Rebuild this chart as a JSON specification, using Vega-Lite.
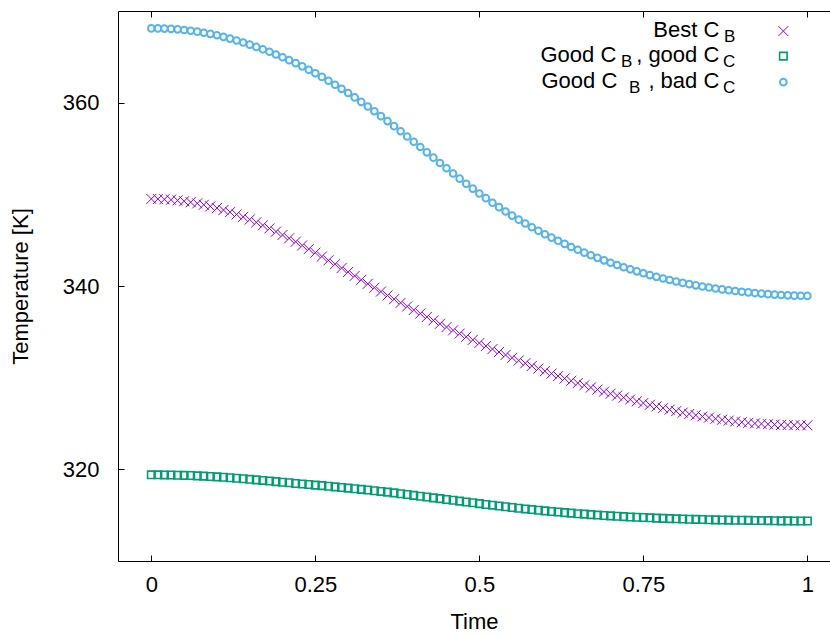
{
  "$schema": "https://vega.github.io/schema/vega-lite/v6.json",
  "width": 712,
  "height": 550,
  "autosize": {"type": "none"},
  "padding": {"left": 118, "top": 11, "right": 0, "bottom": 74},
  "background": "#ffffff",
  "config": {
    "view": {"stroke": null},
    "font": "Liberation Sans",
    "axis": {
      "domainColor": "#000000", "tickColor": "#000000", "labelColor": "#000000", "titleColor": "#000000",
      "labelFont": "Liberation Sans", "titleFont": "Liberation Sans",
      "labelFontSize": 22, "titleFontSize": 22, "titleFontWeight": "normal",
      "tickSize": -6, "grid": false, "domainWidth": 1, "tickWidth": 1, "labelFlush": false
    }
  },
  "data": {"values": [{}]},
  "datasets": {
    "temps": [
{"series":"best","time":0.00,"temp":349.50},{"series":"best","time":0.01,"temp":349.49},{"series":"best","time":0.02,"temp":349.46},{"series":"best","time":0.03,"temp":349.41},{"series":"best","time":0.04,"temp":349.34},{"series":"best","time":0.05,"temp":349.25},{"series":"best","time":0.06,"temp":349.14},{"series":"best","time":0.07,"temp":349.01},{"series":"best","time":0.08,"temp":348.86},{"series":"best","time":0.09,"temp":348.69},
{"series":"best","time":0.10,"temp":348.50},{"series":"best","time":0.11,"temp":348.29},{"series":"best","time":0.12,"temp":348.06},{"series":"best","time":0.13,"temp":347.81},{"series":"best","time":0.14,"temp":347.54},{"series":"best","time":0.15,"temp":347.25},{"series":"best","time":0.16,"temp":346.94},{"series":"best","time":0.17,"temp":346.62},{"series":"best","time":0.18,"temp":346.28},{"series":"best","time":0.19,"temp":345.93},
{"series":"best","time":0.20,"temp":345.57},{"series":"best","time":0.21,"temp":345.20},{"series":"best","time":0.22,"temp":344.82},{"series":"best","time":0.23,"temp":344.43},{"series":"best","time":0.24,"temp":344.03},{"series":"best","time":0.25,"temp":343.63},{"series":"best","time":0.26,"temp":343.22},{"series":"best","time":0.27,"temp":342.80},{"series":"best","time":0.28,"temp":342.38},{"series":"best","time":0.29,"temp":341.96},
{"series":"best","time":0.30,"temp":341.53},{"series":"best","time":0.31,"temp":341.10},{"series":"best","time":0.32,"temp":340.67},{"series":"best","time":0.33,"temp":340.24},{"series":"best","time":0.34,"temp":339.81},{"series":"best","time":0.35,"temp":339.39},{"series":"best","time":0.36,"temp":338.97},{"series":"best","time":0.37,"temp":338.56},{"series":"best","time":0.38,"temp":338.16},{"series":"best","time":0.39,"temp":337.77},
{"series":"best","time":0.40,"temp":337.38},{"series":"best","time":0.41,"temp":337.00},{"series":"best","time":0.42,"temp":336.62},{"series":"best","time":0.43,"temp":336.25},{"series":"best","time":0.44,"temp":335.88},{"series":"best","time":0.45,"temp":335.52},{"series":"best","time":0.46,"temp":335.16},{"series":"best","time":0.47,"temp":334.81},{"series":"best","time":0.48,"temp":334.46},{"series":"best","time":0.49,"temp":334.12},
{"series":"best","time":0.50,"temp":333.78},{"series":"best","time":0.51,"temp":333.45},{"series":"best","time":0.52,"temp":333.12},{"series":"best","time":0.53,"temp":332.80},{"series":"best","time":0.54,"temp":332.48},{"series":"best","time":0.55,"temp":332.17},{"series":"best","time":0.56,"temp":331.87},{"series":"best","time":0.57,"temp":331.57},{"series":"best","time":0.58,"temp":331.28},{"series":"best","time":0.59,"temp":330.99},
{"series":"best","time":0.60,"temp":330.71},{"series":"best","time":0.61,"temp":330.44},{"series":"best","time":0.62,"temp":330.17},{"series":"best","time":0.63,"temp":329.91},{"series":"best","time":0.64,"temp":329.66},{"series":"best","time":0.65,"temp":329.41},{"series":"best","time":0.66,"temp":329.17},{"series":"best","time":0.67,"temp":328.93},{"series":"best","time":0.68,"temp":328.70},{"series":"best","time":0.69,"temp":328.47},
{"series":"best","time":0.70,"temp":328.25},{"series":"best","time":0.71,"temp":328.04},{"series":"best","time":0.72,"temp":327.83},{"series":"best","time":0.73,"temp":327.62},{"series":"best","time":0.74,"temp":327.42},{"series":"best","time":0.75,"temp":327.23},{"series":"best","time":0.76,"temp":327.04},{"series":"best","time":0.77,"temp":326.86},{"series":"best","time":0.78,"temp":326.68},{"series":"best","time":0.79,"temp":326.51},
{"series":"best","time":0.80,"temp":326.35},{"series":"best","time":0.81,"temp":326.19},{"series":"best","time":0.82,"temp":326.04},{"series":"best","time":0.83,"temp":325.90},{"series":"best","time":0.84,"temp":325.77},{"series":"best","time":0.85,"temp":325.64},{"series":"best","time":0.86,"temp":325.52},{"series":"best","time":0.87,"temp":325.41},{"series":"best","time":0.88,"temp":325.31},{"series":"best","time":0.89,"temp":325.22},
{"series":"best","time":0.90,"temp":325.14},{"series":"best","time":0.91,"temp":325.07},{"series":"best","time":0.92,"temp":325.01},{"series":"best","time":0.93,"temp":324.96},{"series":"best","time":0.94,"temp":324.92},{"series":"best","time":0.95,"temp":324.88},{"series":"best","time":0.96,"temp":324.85},{"series":"best","time":0.97,"temp":324.83},{"series":"best","time":0.98,"temp":324.81},{"series":"best","time":0.99,"temp":324.80},
{"series":"best","time":1.00,"temp":324.80},
{"series":"goodgood","time":0.00,"temp":319.40},{"series":"goodgood","time":0.01,"temp":319.40},{"series":"goodgood","time":0.02,"temp":319.39},{"series":"goodgood","time":0.03,"temp":319.38},{"series":"goodgood","time":0.04,"temp":319.36},{"series":"goodgood","time":0.05,"temp":319.34},{"series":"goodgood","time":0.06,"temp":319.32},{"series":"goodgood","time":0.07,"temp":319.29},{"series":"goodgood","time":0.08,"temp":319.26},{"series":"goodgood","time":0.09,"temp":319.22},
{"series":"goodgood","time":0.10,"temp":319.18},{"series":"goodgood","time":0.11,"temp":319.13},{"series":"goodgood","time":0.12,"temp":319.08},{"series":"goodgood","time":0.13,"temp":319.03},{"series":"goodgood","time":0.14,"temp":318.97},{"series":"goodgood","time":0.15,"temp":318.91},{"series":"goodgood","time":0.16,"temp":318.85},{"series":"goodgood","time":0.17,"temp":318.79},{"series":"goodgood","time":0.18,"temp":318.72},{"series":"goodgood","time":0.19,"temp":318.66},
{"series":"goodgood","time":0.20,"temp":318.59},{"series":"goodgood","time":0.21,"temp":318.53},{"series":"goodgood","time":0.22,"temp":318.46},{"series":"goodgood","time":0.23,"temp":318.40},{"series":"goodgood","time":0.24,"temp":318.34},{"series":"goodgood","time":0.25,"temp":318.28},{"series":"goodgood","time":0.26,"temp":318.22},{"series":"goodgood","time":0.27,"temp":318.16},{"series":"goodgood","time":0.28,"temp":318.09},{"series":"goodgood","time":0.29,"temp":318.02},
{"series":"goodgood","time":0.30,"temp":317.95},{"series":"goodgood","time":0.31,"temp":317.88},{"series":"goodgood","time":0.32,"temp":317.81},{"series":"goodgood","time":0.33,"temp":317.74},{"series":"goodgood","time":0.34,"temp":317.66},{"series":"goodgood","time":0.35,"temp":317.59},{"series":"goodgood","time":0.36,"temp":317.51},{"series":"goodgood","time":0.37,"temp":317.43},{"series":"goodgood","time":0.38,"temp":317.34},{"series":"goodgood","time":0.39,"temp":317.25},
{"series":"goodgood","time":0.40,"temp":317.16},{"series":"goodgood","time":0.41,"temp":317.07},{"series":"goodgood","time":0.42,"temp":316.98},{"series":"goodgood","time":0.43,"temp":316.89},{"series":"goodgood","time":0.44,"temp":316.80},{"series":"goodgood","time":0.45,"temp":316.71},{"series":"goodgood","time":0.46,"temp":316.62},{"series":"goodgood","time":0.47,"temp":316.53},{"series":"goodgood","time":0.48,"temp":316.44},{"series":"goodgood","time":0.49,"temp":316.35},
{"series":"goodgood","time":0.50,"temp":316.26},{"series":"goodgood","time":0.51,"temp":316.17},{"series":"goodgood","time":0.52,"temp":316.09},{"series":"goodgood","time":0.53,"temp":316.00},{"series":"goodgood","time":0.54,"temp":315.92},{"series":"goodgood","time":0.55,"temp":315.84},{"series":"goodgood","time":0.56,"temp":315.76},{"series":"goodgood","time":0.57,"temp":315.68},{"series":"goodgood","time":0.58,"temp":315.61},{"series":"goodgood","time":0.59,"temp":315.54},
{"series":"goodgood","time":0.60,"temp":315.47},{"series":"goodgood","time":0.61,"temp":315.40},{"series":"goodgood","time":0.62,"temp":315.34},{"series":"goodgood","time":0.63,"temp":315.28},{"series":"goodgood","time":0.64,"temp":315.22},{"series":"goodgood","time":0.65,"temp":315.16},{"series":"goodgood","time":0.66,"temp":315.11},{"series":"goodgood","time":0.67,"temp":315.06},{"series":"goodgood","time":0.68,"temp":315.01},{"series":"goodgood","time":0.69,"temp":314.96},
{"series":"goodgood","time":0.70,"temp":314.92},{"series":"goodgood","time":0.71,"temp":314.88},{"series":"goodgood","time":0.72,"temp":314.84},{"series":"goodgood","time":0.73,"temp":314.80},{"series":"goodgood","time":0.74,"temp":314.77},{"series":"goodgood","time":0.75,"temp":314.74},{"series":"goodgood","time":0.76,"temp":314.71},{"series":"goodgood","time":0.77,"temp":314.68},{"series":"goodgood","time":0.78,"temp":314.65},{"series":"goodgood","time":0.79,"temp":314.62},
{"series":"goodgood","time":0.80,"temp":314.60},{"series":"goodgood","time":0.81,"temp":314.58},{"series":"goodgood","time":0.82,"temp":314.56},{"series":"goodgood","time":0.83,"temp":314.54},{"series":"goodgood","time":0.84,"temp":314.52},{"series":"goodgood","time":0.85,"temp":314.50},{"series":"goodgood","time":0.86,"temp":314.49},{"series":"goodgood","time":0.87,"temp":314.47},{"series":"goodgood","time":0.88,"temp":314.46},{"series":"goodgood","time":0.89,"temp":314.45},
{"series":"goodgood","time":0.90,"temp":314.44},{"series":"goodgood","time":0.91,"temp":314.43},{"series":"goodgood","time":0.92,"temp":314.42},{"series":"goodgood","time":0.93,"temp":314.41},{"series":"goodgood","time":0.94,"temp":314.40},{"series":"goodgood","time":0.95,"temp":314.39},{"series":"goodgood","time":0.96,"temp":314.38},{"series":"goodgood","time":0.97,"temp":314.38},{"series":"goodgood","time":0.98,"temp":314.37},{"series":"goodgood","time":0.99,"temp":314.37},
{"series":"goodgood","time":1.00,"temp":314.37},
{"series":"goodbad","time":0.00,"temp":368.10},{"series":"goodbad","time":0.01,"temp":368.10},{"series":"goodbad","time":0.02,"temp":368.08},{"series":"goodbad","time":0.03,"temp":368.05},{"series":"goodbad","time":0.04,"temp":368.00},{"series":"goodbad","time":0.05,"temp":367.93},{"series":"goodbad","time":0.06,"temp":367.85},{"series":"goodbad","time":0.07,"temp":367.75},{"series":"goodbad","time":0.08,"temp":367.63},{"series":"goodbad","time":0.09,"temp":367.50},
{"series":"goodbad","time":0.10,"temp":367.35},{"series":"goodbad","time":0.11,"temp":367.18},{"series":"goodbad","time":0.12,"temp":366.99},{"series":"goodbad","time":0.13,"temp":366.78},{"series":"goodbad","time":0.14,"temp":366.56},{"series":"goodbad","time":0.15,"temp":366.33},{"series":"goodbad","time":0.16,"temp":366.08},{"series":"goodbad","time":0.17,"temp":365.82},{"series":"goodbad","time":0.18,"temp":365.55},{"series":"goodbad","time":0.19,"temp":365.26},
{"series":"goodbad","time":0.20,"temp":364.96},{"series":"goodbad","time":0.21,"temp":364.64},{"series":"goodbad","time":0.22,"temp":364.31},{"series":"goodbad","time":0.23,"temp":363.96},{"series":"goodbad","time":0.24,"temp":363.59},{"series":"goodbad","time":0.25,"temp":363.21},{"series":"goodbad","time":0.26,"temp":362.81},{"series":"goodbad","time":0.27,"temp":362.39},{"series":"goodbad","time":0.28,"temp":361.96},{"series":"goodbad","time":0.29,"temp":361.51},
{"series":"goodbad","time":0.30,"temp":361.05},{"series":"goodbad","time":0.31,"temp":360.57},{"series":"goodbad","time":0.32,"temp":360.08},{"series":"goodbad","time":0.33,"temp":359.58},{"series":"goodbad","time":0.34,"temp":359.06},{"series":"goodbad","time":0.35,"temp":358.53},{"series":"goodbad","time":0.36,"temp":357.99},{"series":"goodbad","time":0.37,"temp":357.44},{"series":"goodbad","time":0.38,"temp":356.88},{"series":"goodbad","time":0.39,"temp":356.31},
{"series":"goodbad","time":0.40,"temp":355.74},{"series":"goodbad","time":0.41,"temp":355.16},{"series":"goodbad","time":0.42,"temp":354.58},{"series":"goodbad","time":0.43,"temp":354.00},{"series":"goodbad","time":0.44,"temp":353.42},{"series":"goodbad","time":0.45,"temp":352.84},{"series":"goodbad","time":0.46,"temp":352.27},{"series":"goodbad","time":0.47,"temp":351.71},{"series":"goodbad","time":0.48,"temp":351.16},{"series":"goodbad","time":0.49,"temp":350.62},
{"series":"goodbad","time":0.50,"temp":350.09},{"series":"goodbad","time":0.51,"temp":349.58},{"series":"goodbad","time":0.52,"temp":349.08},{"series":"goodbad","time":0.53,"temp":348.60},{"series":"goodbad","time":0.54,"temp":348.13},{"series":"goodbad","time":0.55,"temp":347.68},{"series":"goodbad","time":0.56,"temp":347.24},{"series":"goodbad","time":0.57,"temp":346.82},{"series":"goodbad","time":0.58,"temp":346.41},{"series":"goodbad","time":0.59,"temp":346.02},
{"series":"goodbad","time":0.60,"temp":345.64},{"series":"goodbad","time":0.61,"temp":345.28},{"series":"goodbad","time":0.62,"temp":344.93},{"series":"goodbad","time":0.63,"temp":344.59},{"series":"goodbad","time":0.64,"temp":344.26},{"series":"goodbad","time":0.65,"temp":343.95},{"series":"goodbad","time":0.66,"temp":343.64},{"series":"goodbad","time":0.67,"temp":343.35},{"series":"goodbad","time":0.68,"temp":343.07},{"series":"goodbad","time":0.69,"temp":342.80},
{"series":"goodbad","time":0.70,"temp":342.54},{"series":"goodbad","time":0.71,"temp":342.29},{"series":"goodbad","time":0.72,"temp":342.05},{"series":"goodbad","time":0.73,"temp":341.82},{"series":"goodbad","time":0.74,"temp":341.60},{"series":"goodbad","time":0.75,"temp":341.39},{"series":"goodbad","time":0.76,"temp":341.19},{"series":"goodbad","time":0.77,"temp":341.00},{"series":"goodbad","time":0.78,"temp":340.82},{"series":"goodbad","time":0.79,"temp":340.65},
{"series":"goodbad","time":0.80,"temp":340.49},{"series":"goodbad","time":0.81,"temp":340.34},{"series":"goodbad","time":0.82,"temp":340.20},{"series":"goodbad","time":0.83,"temp":340.07},{"series":"goodbad","time":0.84,"temp":339.95},{"series":"goodbad","time":0.85,"temp":339.84},{"series":"goodbad","time":0.86,"temp":339.73},{"series":"goodbad","time":0.87,"temp":339.63},{"series":"goodbad","time":0.88,"temp":339.54},{"series":"goodbad","time":0.89,"temp":339.45},
{"series":"goodbad","time":0.90,"temp":339.37},{"series":"goodbad","time":0.91,"temp":339.30},{"series":"goodbad","time":0.92,"temp":339.23},{"series":"goodbad","time":0.93,"temp":339.17},{"series":"goodbad","time":0.94,"temp":339.11},{"series":"goodbad","time":0.95,"temp":339.06},{"series":"goodbad","time":0.96,"temp":339.02},{"series":"goodbad","time":0.97,"temp":338.98},{"series":"goodbad","time":0.98,"temp":338.95},{"series":"goodbad","time":0.99,"temp":338.93},
{"series":"goodbad","time":1.00,"temp":338.92}
    ]
  },
  "resolve": {"axis": {"x": "independent", "y": "independent"}},
  "layer": [
    {
      "data": {"name": "temps"},
      "transform": [{"filter": "datum.series === 'best'"}],
      "mark": {"type": "point", "shape": "M-1,-1L1,1M-1,1L1,-1", "filled": false, "size": 100, "strokeWidth": 1, "color": "#9400d3", "opacity": 1},
      "encoding": {
        "x": {"field": "time", "type": "quantitative", "scale": {"domain": [-0.0508, 1.0345], "nice": false, "zero": false},
              "axis": {"orient": "bottom", "values": [0, 0.25, 0.5, 0.75, 1], "labelExpr": "'' + datum.value", "title": "Time", "labelPadding": 19, "titlePadding": 16}},
        "y": {"field": "temp", "type": "quantitative", "scale": {"domain": [310, 370], "nice": false, "zero": false},
              "axis": {"orient": "left", "values": [320, 340, 360], "title": "Temperature [K]", "labelPadding": 25, "titlePadding": 30}}
      }
    },
    {
      "data": {"name": "temps"},
      "transform": [{"filter": "datum.series === 'goodgood'"}],
      "mark": {"type": "point", "shape": "square", "filled": false, "size": 56, "strokeWidth": 1.6, "color": "#009e73", "opacity": 1},
      "encoding": {
        "x": {"field": "time", "type": "quantitative", "scale": {"domain": [-0.0508, 1.0345], "nice": false, "zero": false}, "axis": null},
        "y": {"field": "temp", "type": "quantitative", "scale": {"domain": [310, 370], "nice": false, "zero": false}, "axis": null}
      }
    },
    {
      "data": {"name": "temps"},
      "transform": [{"filter": "datum.series === 'goodbad'"}],
      "mark": {"type": "point", "shape": "circle", "filled": false, "size": 44, "strokeWidth": 2, "color": "#56b4e9", "opacity": 1},
      "encoding": {
        "x": {"field": "time", "type": "quantitative", "scale": {"domain": [-0.0508, 1.0345], "nice": false, "zero": false}, "axis": null},
        "y": {"field": "temp", "type": "quantitative", "scale": {"domain": [310, 370], "nice": false, "zero": false}, "axis": null}
      }
    },
    {
      "mark": {"type": "point", "opacity": 0},
      "encoding": {
        "x": {"datum": 0, "type": "quantitative", "scale": {"domain": [-0.0508, 1.0345], "nice": false, "zero": false},
              "axis": {"orient": "top", "values": [0, 0.25, 0.5, 0.75, 1], "labels": false, "title": null}},
        "y": {"datum": 340, "type": "quantitative", "scale": {"domain": [310, 370], "nice": false, "zero": false}, "axis": null}
      }
    },
    {
      "mark": {"type": "point", "shape": "M-1,-1L1,1M-1,1L1,-1", "filled": false, "size": 100, "strokeWidth": 1, "color": "#9400d3", "opacity": 1},
      "encoding": {
        "x": {"datum": 0.9634, "type": "quantitative", "scale": {"domain": [-0.0508, 1.0345], "nice": false, "zero": false}, "axis": null},
        "y": {"datum": 367.81, "type": "quantitative", "scale": {"domain": [310, 370], "nice": false, "zero": false}, "axis": null}
      }
    },
    {
      "mark": {"type": "point", "shape": "square", "filled": false, "size": 56, "strokeWidth": 1.6, "color": "#009e73", "opacity": 1},
      "encoding": {
        "x": {"datum": 0.9634, "type": "quantitative", "scale": {"domain": [-0.0508, 1.0345], "nice": false, "zero": false}, "axis": null},
        "y": {"datum": 365.08, "type": "quantitative", "scale": {"domain": [310, 370], "nice": false, "zero": false}, "axis": null}
      }
    },
    {
      "mark": {"type": "point", "shape": "circle", "filled": false, "size": 44, "strokeWidth": 2, "color": "#56b4e9", "opacity": 1},
      "encoding": {
        "x": {"datum": 0.9634, "type": "quantitative", "scale": {"domain": [-0.0508, 1.0345], "nice": false, "zero": false}, "axis": null},
        "y": {"datum": 362.24, "type": "quantitative", "scale": {"domain": [310, 370], "nice": false, "zero": false}, "axis": null}
      }
    },
    {
      "mark": {"type": "text", "text": "Best C", "align": "right", "baseline": "alphabetic", "dx": -16, "dy": 6, "fontSize": 22, "font": "Liberation Sans", "color": "#000000"},
      "encoding": {
        "x": {"datum": 0.8902, "type": "quantitative", "scale": {"domain": [-0.0508, 1.0345], "nice": false, "zero": false}, "axis": null},
        "y": {"datum": 367.81, "type": "quantitative", "scale": {"domain": [310, 370], "nice": false, "zero": false}, "axis": null}
      }
    },
    {
      "mark": {"type": "text", "text": "B", "align": "right", "baseline": "alphabetic", "dx": 0, "dy": 11, "fontSize": 17, "font": "Liberation Sans", "color": "#000000"},
      "encoding": {
        "x": {"datum": 0.8902, "type": "quantitative", "scale": {"domain": [-0.0508, 1.0345], "nice": false, "zero": false}, "axis": null},
        "y": {"datum": 367.81, "type": "quantitative", "scale": {"domain": [310, 370], "nice": false, "zero": false}, "axis": null}
      }
    },
    {
      "mark": {"type": "text", "text": "Good C", "align": "right", "baseline": "alphabetic", "dx": -119, "dy": 6, "fontSize": 22, "font": "Liberation Sans", "color": "#000000"},
      "encoding": {
        "x": {"datum": 0.8902, "type": "quantitative", "scale": {"domain": [-0.0508, 1.0345], "nice": false, "zero": false}, "axis": null},
        "y": {"datum": 365.08, "type": "quantitative", "scale": {"domain": [310, 370], "nice": false, "zero": false}, "axis": null}
      }
    },
    {
      "mark": {"type": "text", "text": "B", "align": "right", "baseline": "alphabetic", "dx": -103, "dy": 11, "fontSize": 17, "font": "Liberation Sans", "color": "#000000"},
      "encoding": {
        "x": {"datum": 0.8902, "type": "quantitative", "scale": {"domain": [-0.0508, 1.0345], "nice": false, "zero": false}, "axis": null},
        "y": {"datum": 365.08, "type": "quantitative", "scale": {"domain": [310, 370], "nice": false, "zero": false}, "axis": null}
      }
    },
    {
      "mark": {"type": "text", "text": ", good C", "align": "right", "baseline": "alphabetic", "dx": -16, "dy": 6, "fontSize": 22, "font": "Liberation Sans", "color": "#000000"},
      "encoding": {
        "x": {"datum": 0.8902, "type": "quantitative", "scale": {"domain": [-0.0508, 1.0345], "nice": false, "zero": false}, "axis": null},
        "y": {"datum": 365.08, "type": "quantitative", "scale": {"domain": [310, 370], "nice": false, "zero": false}, "axis": null}
      }
    },
    {
      "mark": {"type": "text", "text": "C", "align": "right", "baseline": "alphabetic", "dx": 0, "dy": 11, "fontSize": 17, "font": "Liberation Sans", "color": "#000000"},
      "encoding": {
        "x": {"datum": 0.8902, "type": "quantitative", "scale": {"domain": [-0.0508, 1.0345], "nice": false, "zero": false}, "axis": null},
        "y": {"datum": 365.08, "type": "quantitative", "scale": {"domain": [310, 370], "nice": false, "zero": false}, "axis": null}
      }
    },
    {
      "mark": {"type": "text", "text": "Good C", "align": "right", "baseline": "alphabetic", "dx": -118, "dy": 6, "fontSize": 22, "font": "Liberation Sans", "color": "#000000"},
      "encoding": {
        "x": {"datum": 0.8902, "type": "quantitative", "scale": {"domain": [-0.0508, 1.0345], "nice": false, "zero": false}, "axis": null},
        "y": {"datum": 362.24, "type": "quantitative", "scale": {"domain": [310, 370], "nice": false, "zero": false}, "axis": null}
      }
    },
    {
      "mark": {"type": "text", "text": "B", "align": "right", "baseline": "alphabetic", "dx": -95, "dy": 11, "fontSize": 17, "font": "Liberation Sans", "color": "#000000"},
      "encoding": {
        "x": {"datum": 0.8902, "type": "quantitative", "scale": {"domain": [-0.0508, 1.0345], "nice": false, "zero": false}, "axis": null},
        "y": {"datum": 362.24, "type": "quantitative", "scale": {"domain": [310, 370], "nice": false, "zero": false}, "axis": null}
      }
    },
    {
      "mark": {"type": "text", "text": ", bad C", "align": "right", "baseline": "alphabetic", "dx": -16, "dy": 6, "fontSize": 22, "font": "Liberation Sans", "color": "#000000"},
      "encoding": {
        "x": {"datum": 0.8902, "type": "quantitative", "scale": {"domain": [-0.0508, 1.0345], "nice": false, "zero": false}, "axis": null},
        "y": {"datum": 362.24, "type": "quantitative", "scale": {"domain": [310, 370], "nice": false, "zero": false}, "axis": null}
      }
    },
    {
      "mark": {"type": "text", "text": "C", "align": "right", "baseline": "alphabetic", "dx": 0, "dy": 11, "fontSize": 17, "font": "Liberation Sans", "color": "#000000"},
      "encoding": {
        "x": {"datum": 0.8902, "type": "quantitative", "scale": {"domain": [-0.0508, 1.0345], "nice": false, "zero": false}, "axis": null},
        "y": {"datum": 362.24, "type": "quantitative", "scale": {"domain": [310, 370], "nice": false, "zero": false}, "axis": null}
      }
    }
  ]
}
